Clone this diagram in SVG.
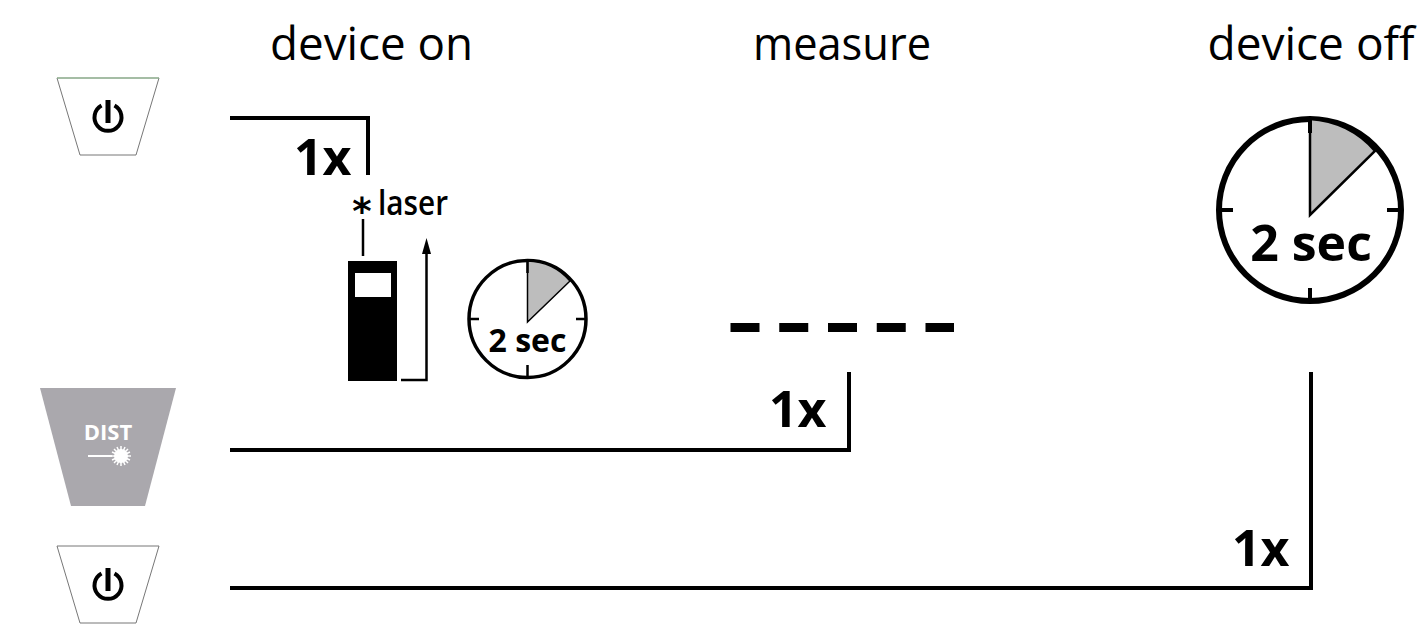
<svg xmlns="http://www.w3.org/2000/svg" width="1426" height="637" viewBox="0 0 1426 637">
<style>
text{font-family:"Open Sans","Noto Sans","Liberation Sans",sans-serif;fill:#000}
.title{font-size:46px;text-anchor:middle}
.n{font-size:50px;font-weight:700}
.wire{fill:none;stroke:#000;stroke-width:4}
.btn{fill:#fff;stroke:#777;stroke-width:1}
.ring{fill:#fff;stroke:#000}
.wedge{fill:#bdbdbd;stroke:#000}
</style>
<defs>
<g id="pw"><path d="M-6.500 -11.500A13.500 13.500 0 1 0 6.500 -11.500" fill="none" stroke="#000" stroke-width="4"/><rect x="-2.500" y="-17" width="5" height="23" fill="#000"/></g>
</defs>
<text class="title" x="371.500" y="60" textLength="203" lengthAdjust="spacingAndGlyphs">device on</text>
<text class="title" x="842" y="60" textLength="178" lengthAdjust="spacingAndGlyphs">measure</text>
<text class="title" x="1311" y="60">device off</text>
<g id="btn-on"><path class="btn" d="M57 78H159L136 155H80Z"/><path d="M57 78H159" stroke="#8fbf8f" stroke-width="1" fill="none"/><use href="#pw" x="108" y="117"/></g>
<g id="btn-dist"><path d="M40 388H176L145 506H71Z" fill="#aaa8ad"/><text x="108" y="440" text-anchor="middle" font-size="22" font-weight="700" style="fill:#fff">DIST</text><path d="M88 456H112" stroke="#fff" stroke-width="2"/><circle cx="121" cy="456" r="7" fill="#fff"/><path d="M121 446V466M111 456H131M114 449L128 463M128 449L114 463M117 447L125 465M125 447L117 465M112 452L130 460M112 460L130 452" stroke="#fff" stroke-width="1.500"/></g>
<g id="btn-off"><path class="btn" d="M57 546H159L136 623H80Z"/><use href="#pw" x="108" y="585"/></g>
<g id="connectors">
<path class="wire" d="M230 118H368V175"/>
<path class="wire" d="M230 450H849V372"/>
<path class="wire" d="M230 588H1311V372"/>
</g>
<text class="n" x="294" y="175">1x</text>
<text class="n" x="769" y="427">1x</text>
<text class="n" x="1232" y="566">1x</text>
<g id="device"><rect x="348" y="261" width="49" height="120" fill="#000"/><rect x="355" y="273" width="36" height="24" fill="#fff"/><path d="M363 219V256" stroke="#000" stroke-width="2.500"/><text x="362" y="224" text-anchor="middle" font-size="37" font-weight="700" style="font-family:'DejaVu Sans',sans-serif">*</text><text x="378" y="215" font-size="35" font-weight="600" textLength="70" lengthAdjust="spacingAndGlyphs">laser</text><path d="M401 380H426.500V250" fill="none" stroke="#000" stroke-width="2.500"/><path d="M426.500 238L431 254H422Z" fill="#000"/></g>
<g id="clock-small"><circle class="ring" cx="527.500" cy="319" r="58.500" stroke-width="3.500"/><path class="wedge" stroke-width="1.500" d="M527.500 322V261A58 58 0 0 1 570 281Z"/><path d="M527.500 261V273M527.500 365V378M469 319H479M576 319H586" stroke="#000" stroke-width="2.500"/><text x="527.500" y="352" text-anchor="middle" font-size="32" font-weight="700">2 sec</text></g>
<g id="clock-large"><circle class="ring" cx="1310" cy="210" r="91" stroke-width="6"/><path class="wedge" stroke-width="2.500" d="M1310 215V119A91 91 0 0 1 1375 151Z"/><path d="M1310 119V133M1310 288V301M1219 210H1233M1387 210H1401" stroke="#000" stroke-width="4"/><text x="1311" y="261" text-anchor="middle" font-size="50" font-weight="700">2 sec</text></g>
<g id="dashes"><path d="M730.500 327.500H954" stroke="#000" stroke-width="9" stroke-dasharray="29 19.750" fill="none"/></g>
</svg>
